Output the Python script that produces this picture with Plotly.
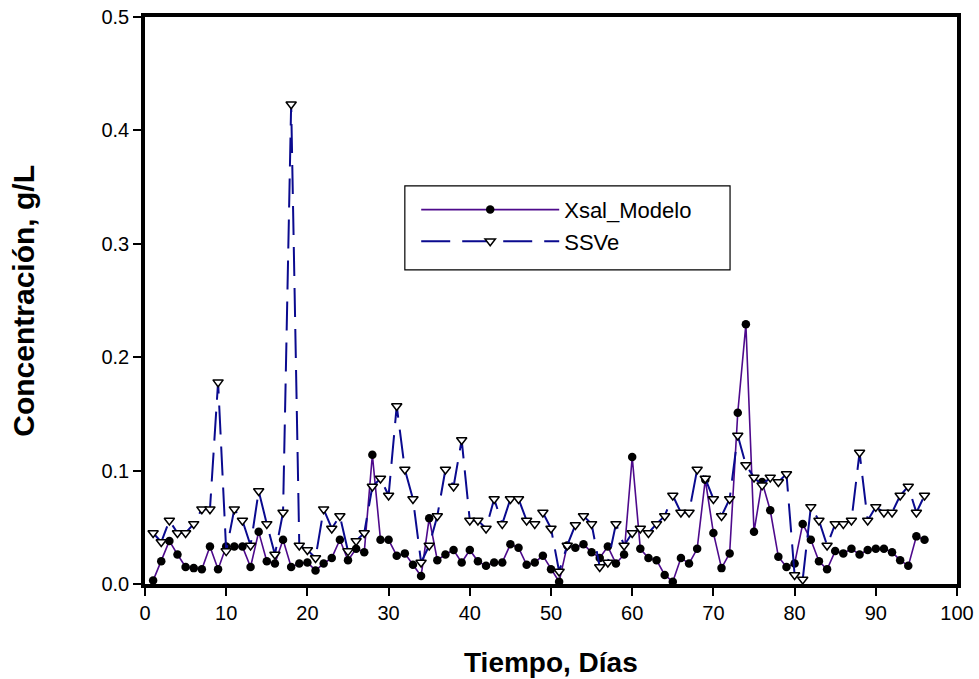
import plotly.graph_objects as go

dias = list(range(1, 97))

xsal_modelo = [
    0.003, 0.020, 0.038, 0.026, 0.015, 0.014, 0.013, 0.033, 0.013, 0.033,
    0.033, 0.033, 0.015, 0.046, 0.020, 0.018, 0.039, 0.015, 0.018, 0.019,
    0.012, 0.018, 0.023, 0.039, 0.021, 0.031, 0.028, 0.114, 0.039, 0.039,
    0.025, 0.027, 0.017, 0.007, 0.058, 0.021, 0.026, 0.030, 0.019, 0.030,
    0.020, 0.016, 0.019, 0.019, 0.035, 0.032, 0.017, 0.019, 0.025, 0.013,
    0.002, 0.034, 0.032, 0.035, 0.028, 0.023, 0.033, 0.018, 0.026, 0.112,
    0.031, 0.023, 0.021, 0.008, 0.002, 0.023, 0.018, 0.031, 0.092, 0.045,
    0.014, 0.027, 0.151, 0.229, 0.046, 0.090, 0.065, 0.024, 0.015, 0.018,
    0.053, 0.039, 0.020, 0.013, 0.029, 0.027, 0.031, 0.026, 0.030, 0.031,
    0.031, 0.028, 0.021, 0.016, 0.042, 0.039,
]

ssve = [
    0.045, 0.037, 0.056, 0.045, 0.045, 0.053, 0.066, 0.066, 0.178, 0.029,
    0.066, 0.056, 0.034, 0.082, 0.053, 0.026, 0.063, 0.423, 0.034, 0.030,
    0.023, 0.066, 0.049, 0.060, 0.029, 0.038, 0.045, 0.086, 0.093, 0.078,
    0.157, 0.101, 0.075, 0.019, 0.034, 0.060, 0.101, 0.086, 0.127, 0.056,
    0.056, 0.049, 0.075, 0.053, 0.075, 0.075, 0.056, 0.053, 0.063, 0.049,
    0.011, 0.034, 0.052, 0.060, 0.053, 0.015, 0.019, 0.053, 0.034, 0.045,
    0.049, 0.045, 0.053, 0.060, 0.078, 0.063, 0.063, 0.101, 0.093, 0.075,
    0.060, 0.075, 0.131, 0.105, 0.094, 0.087, 0.094, 0.090, 0.097, 0.008,
    0.004, 0.068, 0.056, 0.034, 0.053, 0.053, 0.056, 0.116, 0.056, 0.068,
    0.063, 0.063, 0.078, 0.086, 0.063, 0.078,
]

x_ticks = [0, 10, 20, 30, 40, 50, 60, 70, 80, 90, 100]
y_ticks = [0.0, 0.1, 0.2, 0.3, 0.4, 0.5]

FONT = "Liberation Sans, Arial, sans-serif"

fig = go.Figure()
fig.add_trace(go.Scatter(
    x=dias, y=xsal_modelo, name="Xsal_Modelo", mode="lines+markers",
    line=dict(color="#4e0a8c", width=1.6),
    marker=dict(symbol="circle", size=8.5, color="black"),
    legendgroup="a",
))
fig.add_trace(go.Scatter(
    x=dias, y=ssve, name="SSVe", mode="lines+markers",
    line=dict(color="#0a0a8f", width=2, dash="29px,12px"),
    marker=dict(symbol="triangle-down", size=9, color="white",
                line=dict(color="black", width=1.5)),
    legendgroup="b",
))

# legend frame
fig.add_shape(type="rect", xref="paper", yref="paper",
              x0=0.320, x1=0.7205, y0=0.554, y1=0.702,
              line=dict(color="black", width=1.2), fillcolor="white", layer="below")

fig.update_layout(
    template="none",
    width=979, height=679,
    margin=dict(l=145, r=22, t=17, b=95, autoexpand=False),
    paper_bgcolor="white", plot_bgcolor="white",
    font=dict(family=FONT, size=19, color="black"),
    showlegend=True,
    legend=dict(x=0.334, y=0.697, xanchor="left", yanchor="top",
                bgcolor="rgba(0,0,0,0)", borderwidth=0,
                itemwidth=138, traceorder="grouped", tracegroupgap=0,
                font=dict(family=FONT, size=22, color="black")),
    xaxis=dict(range=[0, 100], tickvals=x_ticks, ticktext=[str(v) for v in x_ticks],
               automargin=False,
               showgrid=False, zeroline=False, showline=True, linecolor="black",
               linewidth=3.5, mirror=True, ticks="outside", ticklen=8, tickwidth=1.5,
               tickcolor="black", tickfont=dict(family=FONT, size=20)),
    yaxis=dict(range=[0, 0.5], tickvals=y_ticks, ticktext=[f"{v:.1f}" for v in y_ticks],
               automargin=False,
               showgrid=False, zeroline=False, showline=True, linecolor="black",
               linewidth=3.5, mirror=True, ticks="outside", ticklen=8, tickwidth=1.5,
               tickcolor="black", tickfont=dict(family=FONT, size=20)),
    annotations=[
        dict(text="<b>Tiempo, Días</b>", xref="paper", yref="paper",
             x=0.5, y=-0.139, xanchor="center", yanchor="middle", showarrow=False,
             font=dict(family=FONT, size=28)),
        dict(text="<b>Concentración, g/L</b>", xref="paper", yref="paper",
             x=-0.150, y=0.5, xanchor="center", yanchor="middle", showarrow=False,
             textangle=-90, font=dict(family=FONT, size=30)),
    ],
)

fig.write_html("out.html", config={"displayModeBar": False},
               post_script="document.body.style.margin='0';document.body.style.overflow='hidden';")
